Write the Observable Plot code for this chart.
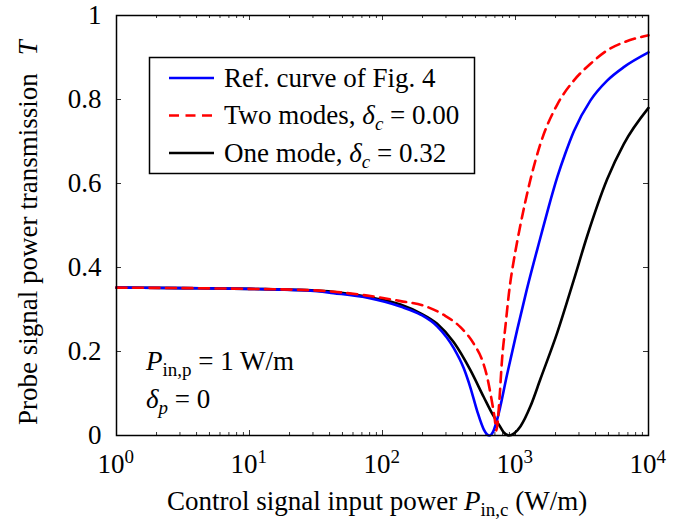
<!DOCTYPE html>
<html><head><meta charset="utf-8">
<script src="https://cdn.jsdelivr.net/npm/d3@7"></script>
<script src="https://cdn.jsdelivr.net/npm/@observablehq/plot@0.6"></script>
<style>body{margin:0;background:#fff} #chart{width:685px;height:520px}</style>
</head><body><div id="chart"></div>
<script>
// Data (x given as log10 of control power in W/m)
const refLogP = [0, 0.5, 1, 1.459, 1.632, 1.887, 2.135, 2.286, 2.411, 2.536, 2.611, 2.662, 2.712, 2.762, 2.785, 2.805, 2.83, 2.862, 2.938, 3.013, 3.083, 3.188, 3.25, 3.314, 3.375, 3.438, 3.564, 3.689, 3.814, 4.0];
const refT    = [0.352, 0.351, 0.349, 0.345, 0.339, 0.328, 0.307, 0.288, 0.26, 0.208, 0.16, 0.113, 0.058, 0.014, 0.003, 0.0, 0.008, 0.038, 0.147, 0.252, 0.345, 0.472, 0.545, 0.615, 0.672, 0.724, 0.798, 0.845, 0.877, 0.912];

const twoLogP = [0, 0.5, 1, 1.459, 1.887, 2.135, 2.311, 2.461, 2.586, 2.687, 2.75, 2.787, 2.817, 2.842, 2.857, 2.875, 2.9, 2.925, 2.95, 3.0, 3.03, 3.113, 3.188, 3.314, 3.438, 3.564, 3.689, 3.814, 4.0];
const twoT    = [0.352, 0.351, 0.349, 0.346, 0.333, 0.32, 0.309, 0.287, 0.258, 0.218, 0.179, 0.139, 0.091, 0.044, 0.012, 0.067, 0.186, 0.262, 0.337, 0.44, 0.49, 0.61, 0.695, 0.788, 0.845, 0.885, 0.917, 0.936, 0.953];

const oneLogP = [0, 0.5, 1, 1.5, 1.887, 2.135, 2.286, 2.411, 2.536, 2.662, 2.762, 2.825, 2.875, 2.91, 2.95, 2.99, 3.038, 3.113, 3.188, 3.314, 3.438, 3.539, 3.689, 3.814, 4.0];
const oneT    = [0.352, 0.351, 0.349, 0.345, 0.33, 0.312, 0.291, 0.266, 0.222, 0.155, 0.091, 0.052, 0.026, 0.008, 0.0, 0.005, 0.022, 0.07, 0.135, 0.245, 0.37, 0.475, 0.61, 0.694, 0.78];

const seriesNames = ["Ref. curve of Fig. 4", "Two modes", "One mode"];
const xMajor = [1, 10, 100, 1000, 10000];
const xExponents = ["0", "1", "2", "3", "4"];
const xMinor = d3.range(0, 4).flatMap(e => d3.range(2, 10).map(m => m * 10 ** e));
const yTicks = [0, 0.2, 0.4, 0.6, 0.8, 1];
const yTickLabels = ["0", "0.2", "0.4", "0.6", "0.8", "1"];

const toRows = (logP, T) => logP.map((l, i) => ({P: 10 ** l, T: T[i]}));
const refRows = toRows(refLogP, refT);
const twoRows = toRows(twoLogP, twoT);
const oneRows = toRows(oneLogP, oneT);

const W = 685, H = 520, ML = 116, MR = 37, MT = 15, MB = 85;
const FW = W - ML - MR, FH = H - MT - MB;
const serif = "'Liberation Serif', 'Times New Roman', serif";

const plot = Plot.plot({
  width: W, height: H,
  marginLeft: ML, marginRight: MR, marginTop: MT, marginBottom: MB,
  style: {fontFamily: serif, fontSize: "27px", background: "white", color: "black"},
  x: {type: "log", domain: [1, 1e4], axis: null},
  y: {domain: [0, 1], axis: null},
  marks: [
    // inward ticks
    Plot.ruleX(xMajor, {x: d => d, insetTop: FH - 5, stroke: "#333", strokeWidth: 1}),
    Plot.ruleX(xMajor, {x: d => d, insetBottom: FH - 5, stroke: "#333", strokeWidth: 1}),
    Plot.ruleX(xMinor, {x: d => d, insetTop: FH - 3, stroke: "#333", strokeWidth: 1}),
    Plot.ruleX(xMinor, {x: d => d, insetBottom: FH - 3, stroke: "#333", strokeWidth: 1}),
    Plot.ruleY(yTicks, {y: d => d, insetRight: FW - 5, stroke: "#333", strokeWidth: 1}),
    Plot.ruleY(yTicks, {y: d => d, insetLeft: FW - 5, stroke: "#333", strokeWidth: 1}),
    // curves
    Plot.line(oneRows, {x: "P", y: "T", stroke: "black", strokeWidth: 2.6, curve: "monotone-x"}),
    Plot.line(refRows, {x: "P", y: "T", stroke: "#0000ff", strokeWidth: 2.6, curve: "monotone-x"}),
    Plot.line(twoRows, {x: "P", y: "T", stroke: "#ff0000", strokeWidth: 2.6, strokeDasharray: "10,6.5", curve: "monotone-x"}),
    Plot.frame({stroke: "black", strokeWidth: 1.5}),
    // tick labels
    Plot.text(yTicks, {y: d => d, text: (d, i) => yTickLabels[i], frameAnchor: "left", textAnchor: "end", dx: -15, fontSize: 27}),
    Plot.text(xMajor, {x: d => d, text: () => "10", frameAnchor: "bottom", textAnchor: "end", lineAnchor: "bottom", dx: 8, dy: 37, fontSize: 27}),
    Plot.text(xMajor, {x: d => d, text: (d, i) => xExponents[i], frameAnchor: "bottom", textAnchor: "start", lineAnchor: "bottom", dx: 8, dy: 27, fontSize: 19})
  ]
});
document.getElementById("chart").appendChild(plot);

// Rich text helper (italics / subscripts)
const svg = d3.select(plot);
function rich(parent, x, y, parts, extra = {}) {
  const t = parent.append("text").attr("x", x).attr("y", y)
    .attr("font-family", serif).attr("font-size", 27).attr("fill", "black")
    .attr("text-anchor", "start");
  for (const [k, v] of Object.entries(extra)) t.attr(k, v);
  let shifted = 0;
  for (const p of parts) {
    const ts = t.append("tspan").text(p.t);
    if (p.italic) ts.attr("font-style", "italic");
    const want = p.sub ? 6 : 0;
    if (want !== shifted) { ts.attr("dy", want - shifted); shifted = want; }
    if (p.sub) ts.attr("font-size", 19);
    if (p.dx) ts.attr("dx", p.dx);
  }
  return t;
}

// Legend
const lg = svg.append("g");
lg.append("rect").attr("x", 149.5).attr("y", 57.5).attr("width", 325).attr("height", 116)
  .attr("fill", "white").attr("stroke", "black").attr("stroke-width", 1.5);
const legendRows = [
  {y: 78, color: "#0000ff", dash: null, parts: [{t: seriesNames[0]}]},
  {y: 115.5, color: "#ff0000", dash: "10,6.5", parts: [{t: seriesNames[1] + ", "}, {t: "δ", italic: true}, {t: "c", italic: true, sub: true}, {t: " = 0.00"}]},
  {y: 153, color: "black", dash: null, parts: [{t: seriesNames[2] + ", "}, {t: "δ", italic: true}, {t: "c", italic: true, sub: true}, {t: " = 0.32"}]}
];
for (const r of legendRows) {
  const l = lg.append("line").attr("x1", 169).attr("x2", 214).attr("y1", r.y).attr("y2", r.y)
    .attr("stroke", r.color).attr("stroke-width", 2.6);
  if (r.dash) l.attr("stroke-dasharray", r.dash);
  rich(lg, 224, r.y + 8.5, r.parts);
}

// Annotations
rich(svg, 146, 370, [{t: "P", italic: true}, {t: "in,p", sub: true}, {t: " = 1 W/m"}]);
rich(svg, 146, 408, [{t: "δ", italic: true}, {t: "p", italic: true, sub: true}, {t: " = 0"}]);

// Axis labels
rich(svg, 167, 510, [{t: "Control signal input power "}, {t: "P", italic: true}, {t: "in,c", sub: true}, {t: " (W/m)"}]);
rich(svg, 0, 0, [{t: "Probe signal power transmission"}, {t: "T", italic: true, dx: 18}], {transform: "translate(37,425) rotate(-90)"});
</script>
</body></html>
